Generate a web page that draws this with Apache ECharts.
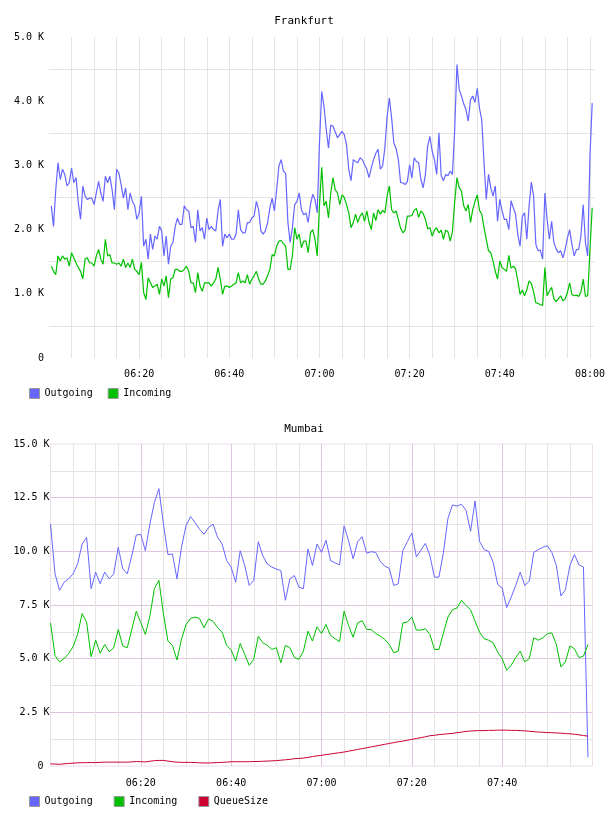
<!DOCTYPE html>
<html>
<head>
<meta charset="utf-8">
<style>
  html, body { margin: 0; padding: 0; background: #fff; }
  #chart { width: 608px; height: 816px; }
</style>
<script src="https://cdn.jsdelivr.net/npm/echarts@6/dist/echarts.min.js"></script>
</head>
<body>
<div id="chart"></div>
<script>
// times are minutes after midnight, values are in K
// Frankfurt: a sample every 30 s from 06:00:30
var fraStart = 360.5
var fraStep = 0.5
var fraOutgoing = [
  2.37, 2.05, 2.62, 3.04, 2.78, 2.94, 2.86, 2.68, 2.73, 2.96,
  2.73, 2.81, 2.42, 2.16, 2.68, 2.52, 2.47, 2.49, 2.49, 2.39,
  2.57, 2.75, 2.57, 2.44, 2.83, 2.73, 2.83, 2.62, 2.31, 2.94,
  2.88, 2.70, 2.49, 2.65, 2.31, 2.57, 2.44, 2.37, 2.16, 2.26,
  2.52, 1.74, 1.85, 1.54, 1.93, 1.69, 1.90, 1.85, 2.05, 1.98,
  1.59, 1.90, 1.46, 1.74, 1.80, 2.05, 2.18, 2.08, 2.08, 2.37,
  2.31, 2.29, 2.03, 2.05, 1.80, 2.31, 1.98, 2.03, 1.85, 2.18,
  2.00, 2.05, 2.00, 1.98, 2.29, 2.47, 1.74, 1.93, 1.87, 1.93,
  1.85, 1.85, 1.93, 2.31, 2.00, 1.95, 1.95, 2.11, 2.11, 2.18,
  2.21, 2.44, 2.31, 1.98, 1.93, 1.98, 2.11, 2.34, 2.49, 2.29,
  2.62, 2.99, 3.09, 2.91, 2.88, 2.11, 1.80, 2.03, 2.39, 2.44,
  2.57, 2.31, 2.23, 2.26, 2.11, 2.39, 2.55, 2.47, 2.26, 3.35,
  4.15, 3.92, 3.56, 3.27, 3.63, 3.61, 3.52, 3.43, 3.48, 3.53,
  3.48, 3.32, 2.94, 2.76, 3.09, 3.06, 3.04, 3.12, 3.09, 3.01,
  2.94, 2.81, 2.96, 3.09, 3.19, 3.25, 2.94, 2.99, 3.27, 3.76,
  4.05, 3.74, 3.35, 3.26, 3.09, 2.73, 2.73, 2.70, 2.75, 3.01,
  2.80, 3.12, 3.06, 3.04, 2.78, 2.65, 2.86, 3.30, 3.45, 3.22,
  3.09, 2.86, 3.51, 2.84, 2.76, 2.86, 2.84, 2.91, 2.86, 3.56,
  4.57, 4.18, 4.08, 3.96, 3.87, 3.69, 4.02, 4.08, 3.98, 4.20,
  3.89, 3.71, 3.04, 2.47, 2.86, 2.65, 2.52, 2.68, 2.13, 2.47,
  2.29, 2.16, 2.16, 2.00, 2.45, 2.34, 2.24, 1.92, 1.74, 2.21,
  2.26, 1.85, 2.37, 2.74, 2.52, 1.77, 1.67, 1.68, 1.54, 2.57,
  2.16, 1.85, 2.13, 1.80, 1.70, 1.64, 1.67, 1.56, 1.69, 1.87,
  2.00, 1.77, 1.59, 1.69, 1.69, 1.90, 2.39, 1.80, 1.59, 3.14,
  3.97
]
var fraIncoming = [
  1.43, 1.35, 1.30, 1.59, 1.51, 1.59, 1.54, 1.56, 1.43, 1.64,
  1.56, 1.48, 1.41, 1.35, 1.23, 1.54, 1.56, 1.48, 1.48, 1.43,
  1.59, 1.69, 1.54, 1.46, 1.85, 1.59, 1.61, 1.48, 1.48, 1.46,
  1.48, 1.43, 1.54, 1.41, 1.48, 1.41, 1.54, 1.38, 1.35, 1.30,
  1.49, 1.02, 0.91, 1.25, 1.17, 1.10, 1.12, 1.15, 0.99, 1.23,
  1.12, 1.28, 0.94, 1.23, 1.25, 1.38, 1.38, 1.35, 1.35, 1.38,
  1.43, 1.35, 1.17, 1.17, 1.02, 1.33, 1.12, 1.04, 1.17, 1.17,
  1.17, 1.12, 1.17, 1.23, 1.41, 1.23, 0.99, 1.12, 1.12, 1.10,
  1.12, 1.15, 1.17, 1.33, 1.17, 1.20, 1.17, 1.30, 1.15, 1.23,
  1.28, 1.35, 1.23, 1.15, 1.15, 1.20, 1.28, 1.38, 1.61, 1.59,
  1.74, 1.82, 1.83, 1.78, 1.74, 1.38, 1.38, 1.60, 2.03, 1.85,
  1.93, 1.72, 1.82, 1.82, 1.64, 1.95, 2.00, 1.85, 1.59, 2.37,
  2.97, 2.37, 2.44, 2.18, 2.57, 2.81, 2.62, 2.57, 2.39, 2.54,
  2.50, 2.39, 2.26, 2.03, 2.11, 2.24, 2.11, 2.21, 2.26, 2.13,
  2.29, 2.11, 2.00, 2.26, 2.14, 2.31, 2.24, 2.30, 2.26, 2.52,
  2.68, 2.31, 2.26, 2.29, 2.16, 2.02, 1.95, 1.99, 2.21, 2.21,
  2.22, 2.30, 2.33, 2.19, 2.29, 2.25, 2.16, 2.01, 2.03, 1.90,
  1.99, 2.03, 1.95, 1.99, 1.85, 1.99, 1.97, 1.82, 1.97, 2.44,
  2.81, 2.65, 2.60, 2.37, 2.29, 2.39, 2.11, 2.31, 2.44, 2.54,
  2.30, 2.24, 2.03, 1.85, 1.67, 1.64, 1.51, 1.35, 1.23, 1.51,
  1.41, 1.38, 1.35, 1.60, 1.40, 1.43, 1.39, 1.20, 0.99, 1.06,
  0.97, 1.06, 1.20, 1.16, 1.03, 0.86, 0.85, 0.83, 0.82, 1.41,
  0.97, 1.04, 1.10, 0.92, 0.88, 0.92, 0.97, 0.89, 0.92, 1.02,
  1.17, 0.99, 0.97, 0.98, 0.96, 1.03, 1.23, 0.96, 0.97, 1.69,
  2.34
]

// Mumbai: a sample every minute from 06:00
var mumStart = 360
var mumStep = 1
var mumOutgoing = [
  11.27, 8.95, 8.18, 8.56, 8.72, 8.95, 9.41, 10.34, 10.65, 8.26,
  9.03, 8.49, 9.03, 8.72, 8.95, 10.19, 9.18, 8.95, 9.80, 10.76,
  10.79, 10.03, 11.27, 12.27, 12.92, 11.27, 9.85, 9.88, 8.72, 10.19,
  11.19, 11.62, 11.34, 11.03, 10.80, 11.11, 11.27, 10.65, 10.34, 9.57,
  9.26, 8.56, 10.03, 9.34, 8.41, 8.64, 10.45, 9.80, 9.41, 9.26,
  9.18, 9.10, 7.72, 8.72, 8.87, 8.33, 8.26, 10.11, 9.34, 10.34,
  9.95, 10.52, 9.57, 9.46, 9.37, 11.19, 10.49, 9.65, 10.45, 10.68,
  9.92, 9.98, 9.95, 9.54, 9.31, 9.21, 8.41, 8.49, 10.03, 10.45,
  10.85, 9.75, 10.05, 10.37, 9.80, 8.80, 8.80, 9.95, 11.54, 12.16,
  12.11, 12.19, 11.91, 10.93, 12.35, 10.46, 10.08, 10.00, 9.49, 8.46,
  8.29, 7.38, 7.87, 8.41, 9.03, 8.41, 8.61, 9.95, 10.08, 10.19,
  10.26, 9.95, 9.34, 7.92, 8.21, 9.34, 9.85, 9.37, 9.27, 0.40
]
var mumIncoming = [
  6.67, 5.15, 4.85, 5.00, 5.23, 5.56, 6.13, 7.10, 6.70, 5.09,
  5.86, 5.25, 5.66, 5.32, 5.51, 6.36, 5.59, 5.51, 6.36, 7.21,
  6.67, 6.13, 6.98, 8.26, 8.65, 7.10, 5.82, 5.62, 4.94, 5.90,
  6.59, 6.87, 6.94, 6.87, 6.44, 6.85, 6.74, 6.44, 6.23, 5.62,
  5.40, 4.89, 5.71, 5.20, 4.69, 4.97, 6.05, 5.74, 5.62, 5.43,
  5.51, 4.81, 5.62, 5.51, 5.05, 4.97, 5.35, 6.28, 5.82, 6.48,
  6.17, 6.59, 6.08, 5.93, 5.79, 7.21, 6.54, 6.00, 6.67, 6.77,
  6.36, 6.36, 6.17, 6.05, 5.90, 5.66, 5.28, 5.35, 6.67, 6.70,
  6.94, 6.33, 6.33, 6.39, 6.13, 5.43, 5.43, 6.20, 6.94, 7.28,
  7.36, 7.72, 7.48, 7.28, 6.74, 6.23, 5.93, 5.86, 5.74, 5.31,
  5.00, 4.46, 4.69, 5.05, 5.35, 4.85, 5.00, 5.97, 5.86, 5.97,
  6.17, 6.20, 5.66, 4.61, 4.85, 5.59, 5.46, 5.05, 5.12, 5.66
]
var mumQueue = [
  0.10, 0.09, 0.08, 0.10, 0.12, 0.13, 0.15, 0.15, 0.16, 0.16,
  0.16, 0.17, 0.18, 0.18, 0.18, 0.18, 0.18, 0.18, 0.19, 0.21,
  0.20, 0.19, 0.22, 0.25, 0.26, 0.26, 0.23, 0.20, 0.18, 0.17,
  0.17, 0.17, 0.16, 0.15, 0.14, 0.14, 0.15, 0.16, 0.17, 0.18,
  0.20, 0.20, 0.20, 0.20, 0.20, 0.21, 0.21, 0.22, 0.23, 0.24,
  0.25, 0.27, 0.29, 0.31, 0.34, 0.35, 0.37, 0.40, 0.44, 0.47,
  0.50, 0.53, 0.56, 0.59, 0.62, 0.65, 0.69, 0.73, 0.77, 0.81,
  0.85, 0.89, 0.93, 0.97, 1.01, 1.05, 1.09, 1.13, 1.16, 1.20,
  1.24, 1.28, 1.32, 1.36, 1.41, 1.43, 1.46, 1.48, 1.50, 1.52,
  1.55, 1.58, 1.61, 1.63, 1.64, 1.65, 1.65, 1.66, 1.66, 1.67,
  1.67, 1.67, 1.66, 1.66, 1.65, 1.64, 1.62, 1.60, 1.58, 1.57,
  1.56, 1.55, 1.54, 1.53, 1.51, 1.50, 1.48, 1.45, 1.42, 1.39
]

var titles = ['Frankfurt', 'Mumbai']
var fraLegend = ['Outgoing', 'Incoming']
var mumLegend = ['Outgoing', 'Incoming', 'QueueSize']
var seriesColors = { Outgoing: '#6666ff', Incoming: '#00c000', QueueSize: '#cc0033' }

var font = 'DejaVu Sans Mono'
var grey = '#e4e4e4'
var pink = '#dfc6df'

function pairs (start, step, values) {
  return values.map(function (v, i) { return [start + i * step, v] })
}

function timeLabel (v) {
  if (v % 20 !== 0) return ''
  var h = Math.floor(v / 60)
  var m = v - h * 60
  return (h < 10 ? '0' : '') + h + ':' + (m < 10 ? '0' : '') + m
}

function line (name, xi, data, width) {
  return {
    name: name,
    type: 'line',
    xAxisIndex: xi,
    yAxisIndex: xi,
    data: data,
    symbol: 'none',
    silent: true,
    color: seriesColors[name],
    lineStyle: { width: width, color: seriesColors[name] }
  }
}

var labelStyle = { fontFamily: font, fontSize: 10, color: '#000' }
var titleStyle = { fontFamily: font, fontSize: 11, fontWeight: 'normal', color: '#000' }

var chart = echarts.init(document.getElementById('chart'), null, { renderer: 'canvas' })
chart.setOption({
  animation: false,
  backgroundColor: '#fff',
  title: [
    { text: titles[0], left: 'center', top: 11, textStyle: titleStyle },
    { text: titles[1], left: 'center', top: 419, textStyle: titleStyle }
  ],
  legend: [
    {
      data: fraLegend, left: 24, top: 383, itemWidth: 10, itemHeight: 10, itemGap: 15,
      icon: 'rect', selectedMode: false, textStyle: labelStyle,
      itemStyle: { borderColor: '#999', borderWidth: 1 }
    },
    {
      data: mumLegend, left: 24, top: 791, itemWidth: 10, itemHeight: 10, itemGap: 21,
      icon: 'rect', selectedMode: false, textStyle: labelStyle,
      itemStyle: { borderColor: '#999', borderWidth: 1 }
    }
  ],
  grid: [
    { left: 49, top: 37, width: 546, height: 321 },
    { left: 50.5, top: 444, width: 542, height: 322, show: true, borderColor: '#ecdcec', borderWidth: 1 }
  ],
  xAxis: [
    {
      type: 'value', gridIndex: 0, min: 360, max: 481, interval: 5,
      axisLine: { show: false }, axisTick: { show: false },
      axisLabel: { formatter: timeLabel, margin: 11, showMinLabel: false, fontFamily: font, fontSize: 10, color: '#000' },
      splitLine: { show: true, showMinLine: false, showMaxLine: false, lineStyle: { color: grey, width: 1 } }
    },
    {
      type: 'value', gridIndex: 1, min: 360, max: 480, interval: 5,
      axisLine: { show: false }, axisTick: { show: false },
      axisLabel: { formatter: timeLabel, margin: 12, showMinLabel: false, showMaxLabel: false, fontFamily: font, fontSize: 10, color: '#000' },
      splitLine: { show: true, showMinLine: false, showMaxLine: false, lineStyle: { color: [grey, grey, grey, pink], width: 1 } }
    }
  ],
  yAxis: [
    {
      type: 'value', gridIndex: 0, min: 0, max: 5, interval: 0.5,
      axisLine: { show: false }, axisTick: { show: false },
      axisLabel: {
        margin: 5, fontFamily: font, fontSize: 10, color: '#000',
        formatter: function (v) { return v % 1 ? '' : (v === 0 ? '0' : v.toFixed(1) + ' K') }
      },
      splitLine: { show: true, showMinLine: false, showMaxLine: false, lineStyle: { color: [grey, 'rgba(0,0,0,0)'], width: 1 } }
    },
    {
      type: 'value', gridIndex: 1, min: 0, max: 15, interval: 1.25,
      axisLine: { show: false }, axisTick: { show: false },
      axisLabel: {
        margin: 1, fontFamily: font, fontSize: 10, color: '#000',
        formatter: function (v) { return v % 2.5 ? '' : (v === 0 ? '0 ' : v.toFixed(1) + ' K') }
      },
      splitLine: { show: true, showMinLine: false, showMaxLine: false, lineStyle: { color: [grey, pink], width: 1 } }
    }
  ],
  series: [
    line('Outgoing', 0, pairs(fraStart, fraStep, fraOutgoing), 1.2),
    line('Incoming', 0, pairs(fraStart, fraStep, fraIncoming), 1.2),
    line('Outgoing', 1, pairs(mumStart, mumStep, mumOutgoing), 1),
    line('Incoming', 1, pairs(mumStart, mumStep, mumIncoming), 1),
    line('QueueSize', 1, pairs(mumStart, mumStep, mumQueue), 1)
  ]
})
window.onresize = function () {
  chart.resize()
}
</script>
</body>
</html>
